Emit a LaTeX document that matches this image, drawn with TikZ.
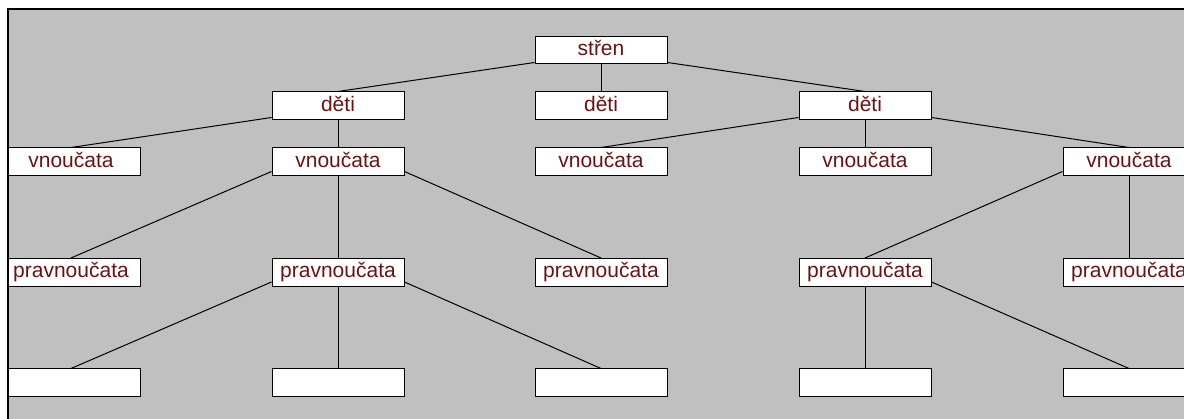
\documentclass[tikz,border=0pt]{standalone}
\usepackage{fontspec}
\setmainfont{Liberation Sans}
\usetikzlibrary{calc}
\definecolor{panel}{RGB}{192,192,192}
\definecolor{label}{RGB}{104,20,20}
\begin{document}
\begin{tikzpicture}[x=1pt,y=-1pt,
  member/.style={draw=black, fill=white, line width=1pt, inner sep=0pt,
    minimum width=132pt, minimum height=28pt, text height=12pt, text depth=1.4pt,
    font=\fontsize{21}{21}\selectfont, text=label},
  edgemember/.style={member, minimum width=138pt},
  link/.style={line width=1pt, black}]
\useasboundingbox (0,0) rectangle (1184,419);
\fill[white] (0,0) rectangle (1184,419);
\begin{scope}
  \clip (8,9) rectangle (1184,419);
  \fill[panel] (8,9) rectangle (1184,419);

  % root
  \node[member, minimum height=27pt] (root) at (601,50.5) {střen};
  % children
  \node[member] (chL) at (338,106) {děti};
  \node[member] (chM) at (601,106) {děti};
  \node[member] (chR) at (865,106) {děti};
  % grandchildren
  \node[edgemember] (gA) at (71,162) {vnoučata};
  \node[member] (gB) at (338,162) {vnoučata};
  \node[member] (gC) at (601,162) {vnoučata};
  \node[member] (gD) at (865,162) {vnoučata};
  \node[member] (gE) at (1129,162) {vnoučata};
  % great-grandchildren
  \node[edgemember] (pA) at (71,272.5) {pravnoučata};
  \node[member] (pB) at (338,272.5) {pravnoučata};
  \node[member] (pC) at (601,272.5) {pravnoučata};
  \node[member] (pD) at (865,272.5) {pravnoučata};
  \node[member] (pE) at (1129,272.5) {pravnoučata};
  % empty slots
  \node[edgemember] (eA) at (71,383) {};
  \node[member] (eB) at (338,383) {};
  \node[member] (eC) at (601,383) {};
  \node[member] (eD) at (865,383) {};
  \node[member] (eE) at (1129,383) {};

  % root -> children
  \draw[link] ($(root.south west)+(0,-2)$) -- (chL.north);
  \draw[link] (root.south) -- (chM.north);
  \draw[link] ($(root.south east)+(0,-2)$) -- (chR.north);
  % children -> grandchildren
  \draw[link] ($(chL.south west)+(0,-3)$) -- (gA.north);
  \draw[link] (chL.south) -- (gB.north);
  \draw[link] ($(chR.south west)+(0,-3)$) -- (gC.north);
  \draw[link] (chR.south) -- (gD.north);
  \draw[link] ($(chR.south east)+(0,-3)$) -- (gE.north);
  % grandchildren -> great-grandchildren
  \draw[link] ($(gB.south west)+(0,-5)$) -- (pA.north);
  \draw[link] (gB.south) -- (pB.north);
  \draw[link] ($(gB.south east)+(0,-5)$) -- (pC.north);
  \draw[link] ($(gE.south west)+(0,-5)$) -- (pD.north);
  \draw[link] (gE.south) -- (pE.north);
  % great-grandchildren -> empty slots
  \draw[link] ($(pB.south west)+(0,-5)$) -- (eA.north);
  \draw[link] (pB.south) -- (eB.north);
  \draw[link] ($(pB.south east)+(0,-5)$) -- (eC.north);
  \draw[link] (pD.south) -- (eD.north);
  \draw[link] ($(pD.south east)+(0,-5)$) -- (eE.north);
\end{scope}
% frame
\draw[line width=1.5pt, line cap=rect] (8,419) -- (8,9) -- (1184,9);
\end{tikzpicture}
\end{document}
